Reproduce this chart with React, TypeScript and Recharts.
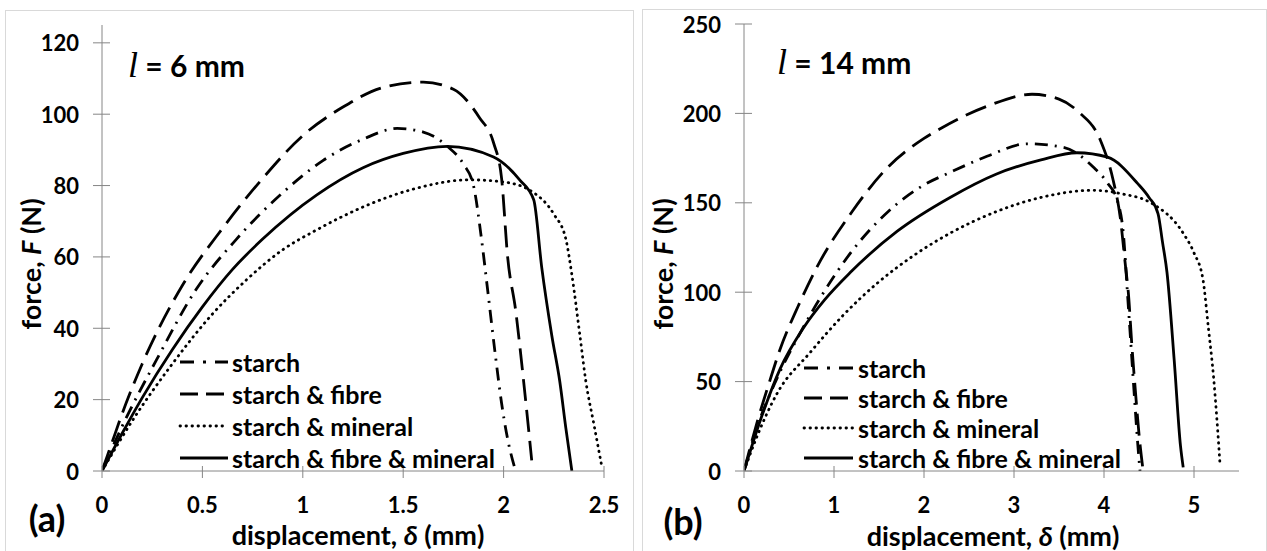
import React from 'react';
import { LineChart, Line, XAxis, YAxis } from 'recharts';

// ---- panel (a): l = 6 mm ----
const aStarchX = [0, 0.1, 0.27, 0.47, 0.67, 0.9, 1.1, 1.3, 1.47, 1.6, 1.72, 1.8, 1.85, 1.89, 1.92, 1.96, 1.99, 2.02, 2.06];
const aStarchY = [0, 12.5, 31, 51, 65, 78, 87, 93, 96, 95, 91, 86, 80, 65, 51, 32, 19, 9, 0];
const aFibreX = [0, 0.05, 0.1, 0.2, 0.4, 0.6, 0.8, 1.0, 1.2, 1.4, 1.6, 1.75, 1.88, 1.95, 1.99, 2.02, 2.06, 2.1, 2.14];
const aFibreY = [0, 8, 16, 30, 52, 68, 82, 94, 102, 107.5, 109, 107, 99, 92, 82, 60, 45, 25, 3];
const aMineralX = [0, 0.15, 0.35, 0.55, 0.72, 0.9, 1.07, 1.3, 1.55, 1.83, 2.0, 2.15, 2.25, 2.31, 2.34, 2.38, 2.41, 2.45, 2.49];
const aMineralY = [0, 14, 30, 44, 53.6, 62, 67.6, 74, 79, 81.6, 81, 78, 72, 65, 55, 38, 25, 13, 1];
const aBothX = [0, 0.1, 0.2, 0.35, 0.5, 0.65, 0.8, 1.07, 1.3, 1.5, 1.72, 1.95, 2.08, 2.15, 2.19, 2.24, 2.28, 2.31, 2.34];
const aBothY = [0, 10.5, 20.5, 34, 46, 56.5, 65, 77.4, 85, 89, 91, 88, 81.6, 76, 57, 38, 25, 12, 0];
const aXTicks = [0, 0.5, 1, 1.5, 2, 2.5];
const aYTicks = [0, 20, 40, 60, 80, 100, 120];

// ---- panel (b): l = 14 mm ----
const bStarchX = [0, 0.15, 0.35, 0.6, 0.85, 1.2, 1.6, 2.0, 2.29, 2.7, 3.15, 3.55, 3.88, 4.04, 4.15, 4.22, 4.26, 4.3, 4.34, 4.38, 4.4];
const bStarchY = [0, 25, 50, 75, 97, 123, 145, 160, 167, 176, 183, 181, 170, 161, 151, 130, 100, 70, 40, 12, 0];
const bFibreX = [0, 0.15, 0.29, 0.4, 0.6, 0.81, 1.2, 1.6, 2.0, 2.2, 2.7, 3.2, 3.5, 3.72, 3.96, 4.1, 4.18, 4.24, 4.27, 4.31, 4.35, 4.39, 4.43];
const bFibreY = [0, 28, 51, 68, 92, 114, 145, 170, 186, 192, 204, 210.7, 208, 200.7, 185, 163, 142, 114, 100, 70, 44, 20, 2];
const bMineralX = [0, 0.15, 0.37, 0.73, 1.1, 1.48, 1.9, 2.29, 2.8, 3.3, 3.88, 4.2, 4.52, 4.88, 5.0, 5.1, 5.16, 5.22, 5.26, 5.29];
const bMineralY = [0, 20, 43.6, 66, 87, 105, 121, 133, 145, 153, 157, 155, 150, 133, 122, 107, 80, 51, 25, 3];
const bBothX = [0, 0.2, 0.4, 0.66, 0.9, 1.18, 1.7, 2.29, 2.8, 3.3, 3.7, 4.04, 4.37, 4.5, 4.6, 4.65, 4.7, 4.78, 4.85, 4.88];
const bBothY = [0, 31, 57, 80, 96, 111, 134, 153, 166, 174, 178, 175.5, 161, 153, 144, 128, 111, 62, 14, 2];
const bXTicks = [0, 1, 2, 3, 4, 5];
const bYTicks = [0, 50, 100, 150, 200, 250];

const seriesNames = ['starch', 'starch & fibre', 'starch & mineral', 'starch & fibre & mineral'];

const FONT = 'Lato, "Open Sans", sans-serif';
const AXIS = '#868686';
const TICK_SIZE = 8;
const Y_MARGIN = 15;
const X_MARGIN = 25;
const TICK_FONT = 22;

// line looks: dash-dot, long dash, round dot, solid
const dashes = ['13 7 2 7', '22 9', '0.5 5.5', undefined];
const caps: ('butt' | 'round')[] = ['butt', 'butt', 'round', 'butt'];
const WIDTH = 2.8;

const toPts = (xs: number[], ys: number[]) => xs.map((x, i) => ({ x, y: ys[i] }));

const YTick = (props: any) => {
  const { x, y, payload } = props;
  const ax = x + TICK_SIZE + Y_MARGIN;
  return (
    <g>
      <line x1={ax - 9} x2={ax + 8} y1={y} y2={y} stroke={AXIS} strokeWidth={1} />
      <text x={x} y={y} textAnchor="end" dominantBaseline="central" fontFamily={FONT} fontWeight={700} fontSize={TICK_FONT} fill="#000">
        {payload.value}
      </text>
    </g>
  );
};

const XTick = (props: any) => {
  const { x, y, payload } = props;
  const ay = y - TICK_SIZE - X_MARGIN;
  return (
    <g>
      <line x1={x} x2={x} y1={ay - 5} y2={ay + 7} stroke={AXIS} strokeWidth={1} />
      <text x={x} y={y} textAnchor="middle" dominantBaseline="central" fontFamily={FONT} fontWeight={700} fontSize={TICK_FONT} fill="#000">
        {payload.value}
      </text>
    </g>
  );
};

interface PanelProps {
  left: number;
  width: number;
  margin: { top: number; right: number; bottom: number; left: number };
  xMax: number;
  yMax: number;
  xTicks: number[];
  yTicks: number[];
  series: { x: number; y: number }[][];
}

const Panel: React.FC<PanelProps> = ({ left, width, margin, xMax, yMax, xTicks, yTicks, series }) => (
  <div style={{ position: 'absolute', left, top: 0 }}>
    <LineChart width={width} height={551} margin={margin}>
      <XAxis
        type="number"
        dataKey="x"
        domain={[0, xMax]}
        ticks={xTicks}
        interval={0}
        allowDataOverflow
        height={30}
        tickSize={TICK_SIZE}
        tickMargin={X_MARGIN}
        tickLine={false}
        axisLine={{ stroke: AXIS }}
        tick={<XTick />}
      />
      <YAxis
        type="number"
        dataKey="y"
        domain={[0, yMax]}
        ticks={yTicks}
        interval={0}
        allowDataOverflow
        width={60}
        tickSize={TICK_SIZE}
        tickMargin={Y_MARGIN}
        tickLine={false}
        axisLine={{ stroke: AXIS }}
        tick={<YTick />}
      />
      {series.map((d, i) => (
        <Line
          key={seriesNames[i]}
          data={d}
          dataKey="y"
          type="monotone"
          stroke="#000"
          strokeWidth={WIDTH}
          strokeDasharray={dashes[i]}
          strokeLinecap={caps[i]}
          dot={false}
          activeDot={false}
          isAnimationActive={false}
        />
      ))}
    </LineChart>
  </div>
);

const legendDash = ['14 9 3 9', '18 8', '0.5 5.5', undefined];

const LegendBlock: React.FC<{ x0: number; x1: number; tx: number; rows: number[] }> = ({ x0, x1, tx, rows }) => (
  <g>
    {seriesNames.map((name, i) => (
      <g key={name}>
        <line
          x1={x0}
          x2={x1}
          y1={rows[i]}
          y2={rows[i]}
          stroke="#000"
          strokeWidth={WIDTH}
          strokeDasharray={legendDash[i]}
          strokeLinecap={caps[i]}
        />
        <text x={tx} y={rows[i]} dominantBaseline="central" fontFamily={FONT} fontWeight={700} fontSize={25} fill="#000">
          {name}
        </text>
      </g>
    ))}
  </g>
);

const App: React.FC = () => {
  const aSeries = [toPts(aStarchX, aStarchY), toPts(aFibreX, aFibreY), toPts(aMineralX, aMineralY), toPts(aBothX, aBothY)];
  const bSeries = [toPts(bStarchX, bStarchY), toPts(bFibreX, bFibreY), toPts(bMineralX, bMineralY), toPts(bBothX, bBothY)];
  const textProps = { fontFamily: FONT, fontWeight: 700, fill: '#000' } as const;

  return (
    <div style={{ position: 'absolute', left: 0, top: 0, width: 1267, height: 551, background: '#fff', overflow: 'hidden' }}>
      <div style={{ position: 'absolute', left: 5, top: 10, width: 627, height: 560, border: '1px solid #d9d9d9' }} />
      <div style={{ position: 'absolute', left: 642, top: 9, width: 623, height: 560, border: '1px solid #d9d9d9' }} />

      <Panel
        left={0}
        width={640}
        margin={{ top: 25, right: 36, bottom: 50, left: 42 }}
        xMax={2.5}
        yMax={125}
        xTicks={aXTicks}
        yTicks={aYTicks}
        series={aSeries}
      />
      <Panel
        left={640}
        width={627}
        margin={{ top: 24, right: 28, bottom: 50, left: 44 }}
        xMax={5.5}
        yMax={250}
        xTicks={bXTicks}
        yTicks={bYTicks}
        series={bSeries}
      />

      <svg width={1267} height={551} style={{ position: 'absolute', left: 0, top: 0, pointerEvents: 'none' }}>
        {/* panel labels */}
        <text x={128} y={65} dominantBaseline="central" fontSize={30} {...textProps}>
          <tspan fontFamily='"Liberation Serif", serif' fontStyle="italic" fontWeight={400} fontSize={36}>l</tspan>
          {' = 6 mm'}
        </text>
        <text x={777} y={62} dominantBaseline="central" fontSize={30} {...textProps}>
          <tspan fontFamily='"Liberation Serif", serif' fontStyle="italic" fontWeight={400} fontSize={36}>l</tspan>
          {' = 14 mm'}
        </text>
        <text x={47} y={518} textAnchor="middle" dominantBaseline="central" fontSize={36} {...textProps}>(a)</text>
        <text x={683} y={521} textAnchor="middle" dominantBaseline="central" fontSize={36} {...textProps}>(b)</text>

        {/* axis titles */}
        <text x={358} y={534} textAnchor="middle" dominantBaseline="central" fontSize={27} {...textProps}>
          displacement, <tspan fontStyle="italic">δ</tspan> (mm)
        </text>
        <text x={993} y={535} textAnchor="middle" dominantBaseline="central" fontSize={27} {...textProps}>
          displacement, <tspan fontStyle="italic">δ</tspan> (mm)
        </text>
        <text x={30} y={264} textAnchor="middle" dominantBaseline="central" fontSize={27} transform="rotate(-90 30 264)" {...textProps}>
          force, <tspan fontStyle="italic">F</tspan> (N)
        </text>
        <text x={662} y={264} textAnchor="middle" dominantBaseline="central" fontSize={27} transform="rotate(-90 662 264)" {...textProps}>
          force, <tspan fontStyle="italic">F</tspan> (N)
        </text>

        {/* legends */}
        <LegendBlock x0={180} x1={228} tx={232} rows={[362, 394, 426, 458]} />
        <LegendBlock x0={804} x1={853} tx={858} rows={[368, 398, 428, 458]} />
      </svg>
    </div>
  );
};

export default App;
